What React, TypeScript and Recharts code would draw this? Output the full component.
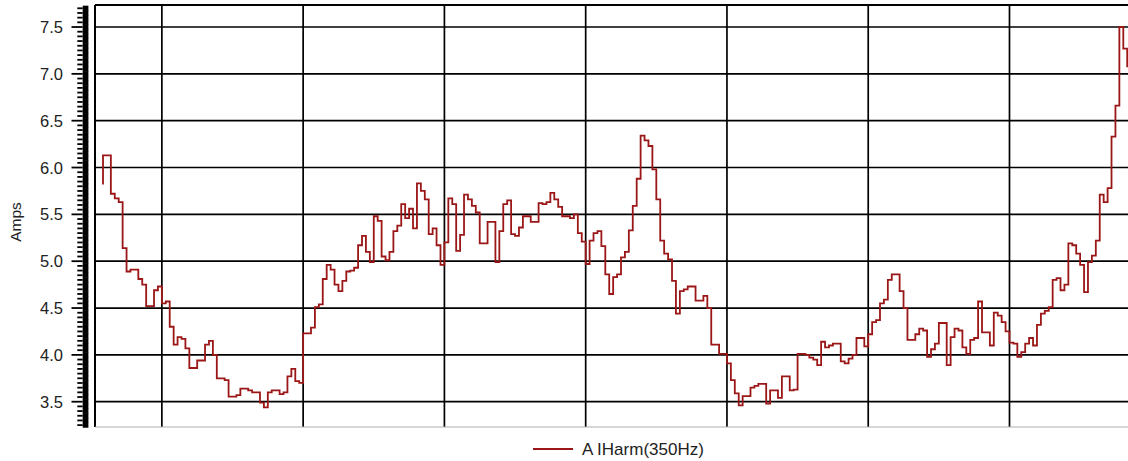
import React from 'react';
import { ComposedChart, Line, XAxis, YAxis, ReferenceLine } from 'recharts';

// sample values (Amps), one per step
const ampsValues = [
  5.82, 6.13, 6.13, 5.72, 5.67, 5.63, 5.14, 4.89, 4.91, 4.91,
  4.81, 4.75, 4.52, 4.52, 4.69, 4.73, 4.55, 4.57, 4.30, 4.11,
  4.19, 4.17, 4.07, 3.86, 3.86, 3.94, 3.94, 4.11, 4.15, 4.00,
  3.75, 3.75, 3.73, 3.555, 3.555, 3.57, 3.64, 3.64, 3.62, 3.60,
  3.60, 3.49, 3.44, 3.60, 3.62, 3.62, 3.58, 3.60, 3.77, 3.85,
  3.72, 3.70, 4.23, 4.23, 4.29, 4.51, 4.54, 4.81, 4.96, 4.91,
  4.75, 4.68, 4.79, 4.89, 4.90, 4.93, 5.17, 5.27, 5.10, 4.99,
  5.48, 5.43, 5.05, 5.01, 5.10, 5.32, 5.38, 5.61, 5.46, 5.56,
  5.35, 5.83, 5.75, 5.66, 5.29, 5.35, 5.17, 4.96, 5.20, 5.67,
  5.61, 5.11, 5.28, 5.71, 5.66, 5.59, 5.52, 5.19, 5.19, 5.42,
  5.42, 4.99, 5.32, 5.61, 5.65, 5.29, 5.27, 5.36, 5.48, 5.48,
  5.42, 5.42, 5.62, 5.61, 5.63, 5.73, 5.66, 5.58, 5.48, 5.48,
  5.46, 5.50, 5.30, 5.21, 4.97, 5.22, 5.30, 5.32, 5.16, 4.86,
  4.65, 4.83, 4.86, 5.04, 5.10, 5.33, 5.59, 5.88, 6.34, 6.29,
  6.23, 5.98, 5.66, 5.22, 5.08, 5.02, 4.79, 4.44, 4.68, 4.70,
  4.73, 4.73, 4.58, 4.58, 4.63, 4.50, 4.11, 4.11, 4.01, 4.01,
  3.91, 3.73, 3.59, 3.46, 3.56, 3.56, 3.65, 3.67, 3.69, 3.69,
  3.48, 3.62, 3.62, 3.54, 3.77, 3.77, 3.62, 3.63, 4.01, 4.01,
  4.00, 3.97, 3.95, 3.89, 4.14, 4.08, 4.10, 4.12, 4.12, 3.93,
  3.91, 3.96, 4.00, 4.18, 4.18, 4.09, 4.22, 4.35, 4.37, 4.55,
  4.59, 4.80, 4.86, 4.86, 4.68, 4.50, 4.16, 4.16, 4.22, 4.28,
  4.26, 3.98, 4.06, 4.12, 4.34, 4.34, 3.89, 4.19, 4.28, 4.26,
  4.08, 4.01, 4.16, 4.18, 4.57, 4.24, 4.24, 4.10, 4.45, 4.42,
  4.35, 4.25, 4.13, 4.12, 3.98, 4.03, 4.12, 4.18, 4.10, 4.32,
  4.44, 4.47, 4.51, 4.80, 4.82, 4.69, 4.75, 5.19, 5.17, 5.08,
  4.96, 4.67, 4.99, 5.06, 5.22, 5.71, 5.63, 5.78, 6.33, 6.66,
  7.50, 7.27, 7.08,
];

const seriesName = 'A IHarm(350Hz)';

// vertical grid positions (sample index)
const xGridTicks = [15, 51, 87, 123, 159, 195, 231];

// labelled y ticks
const yMajorTicks = [3.5, 4.0, 4.5, 5.0, 5.5, 6.0, 6.5, 7.0, 7.5];

// minor y ticks every 0.05
const yMinorTicks: number[] = [];
for (let k = 65; k <= 154; k++) yMinorTicks.push(Math.round(k * 5) / 100);

const data = ampsValues.map((amps, t) => ({ t, amps }));

const FONT = '"Liberation Sans", Arial, sans-serif';
const LINE_COLOR = '#9b1616';
const AXIS_X0 = 82.7;
const AXIS_X1 = 88.4;

const YTick = (props: any) => {
  const { y, payload } = props;
  const v = payload.value as number;
  const major = Math.abs(v * 2 - Math.round(v * 2)) < 1e-6;
  return (
    <g>
      <rect x={AXIS_X0} y={y - 2.6} width={AXIS_X1 - AXIS_X0} height={5.2} fill="#000" />
      <line x1={major ? 71.5 : 77.3} x2={AXIS_X0} y1={y} y2={y} stroke="#000" strokeWidth={1.8} />
      {major && (
        <text
          x={63}
          y={y}
          textAnchor="end"
          dominantBaseline="central"
          fontSize={16.5}
          fontFamily={FONT}
          fill="#222"
        >
          {v.toFixed(1)}
        </text>
      )}
    </g>
  );
};

export default function App() {
  return (
    <div
      style={{
        position: 'absolute',
        left: 0,
        top: 0,
        width: 1128,
        height: 461,
        overflow: 'hidden',
        background: '#fff',
        fontFamily: FONT,
      }}
    >
      <ComposedChart
        width={1128}
        height={461}
        data={data}
        margin={{ top: 5, right: 0, bottom: 33, left: 0 }}
      >
        <XAxis
          dataKey="t"
          type="number"
          domain={[-2.04, 261.2]}
          allowDataOverflow
          ticks={xGridTicks}
          tick={false}
          tickLine={false}
          height={1}
          axisLine={{ stroke: '#b0b0b0', strokeWidth: 1.2 }}
        />
        <YAxis
          type="number"
          domain={[3.23, 7.735]}
          allowDataOverflow
          ticks={yMinorTicks}
          interval={0}
          width={95}
          axisLine={false}
          tickLine={false}
          tickSize={0}
          tick={<YTick />}
          label={{
            content: () => (
              <text
                x={15}
                y={222}
                transform="rotate(-90 15 222)"
                textAnchor="middle"
                dominantBaseline="central"
                fontSize={15.5}
                fontFamily={FONT}
                fill="#222"
              >
                Amps
              </text>
            ),
          }}
        />
        {yMajorTicks.map((v) => (
          <ReferenceLine key={'h' + v} y={v} stroke="#000" strokeWidth={1.7} />
        ))}
        {xGridTicks.map((v) => (
          <ReferenceLine key={'v' + v} x={v} stroke="#000" strokeWidth={1.7} />
        ))}
        <ReferenceLine y={7.735} stroke="#000" strokeWidth={2} />
        <ReferenceLine x={-2.04} stroke="#000" strokeWidth={2} />
        <Line
          type="stepBefore"
          dataKey="amps"
          name={seriesName}
          stroke={LINE_COLOR}
          strokeWidth={1.8}
          dot={false}
          activeDot={false}
          isAnimationActive={false}
        />
      </ComposedChart>
      <svg
        width={1128}
        height={31}
        style={{ position: 'absolute', left: 0, top: 430 }}
      >
        <line x1={533} x2={573} y1={19} y2={19} stroke={LINE_COLOR} strokeWidth={1.8} />
        <text
          x={582}
          y={19}
          dominantBaseline="central"
          fontSize={17}
          fontFamily={FONT}
          fill="#222"
        >
          {seriesName}
        </text>
      </svg>
    </div>
  );
}
